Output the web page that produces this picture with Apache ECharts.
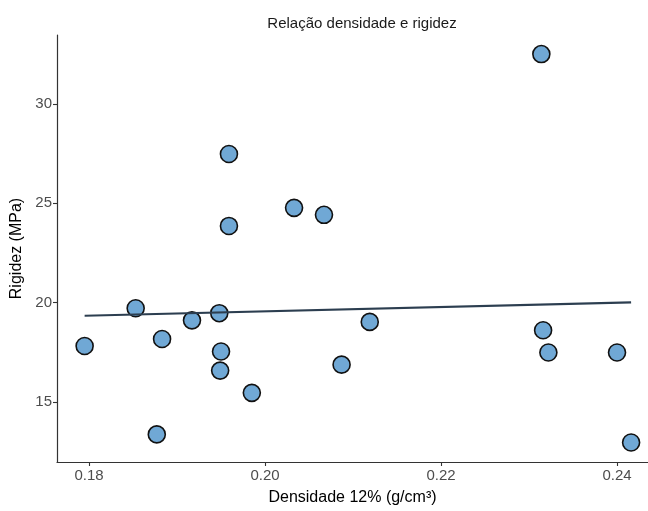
<!DOCTYPE html>
<html>
<head>
<meta charset="utf-8">
<script src="https://cdn.jsdelivr.net/npm/echarts@6/dist/echarts.min.js"></script>
<style>
html,body{margin:0;padding:0;background:#fff;}
#chart{width:648px;height:511px;}
</style>
</head>
<body>
<div id="chart"></div>
<script>
// Data
const densidade = [0.1959, 0.1959, 0.1853, 0.1917, 0.1948, 0.1795, 0.1883, 0.1950, 0.1949, 0.1985, 0.1877,
                   0.2033, 0.2067, 0.2119, 0.2087, 0.2314, 0.2316, 0.2322, 0.2400, 0.2416];
const rigidez   = [27.48, 23.86, 19.72, 19.11, 19.47, 17.82, 18.17, 17.54, 16.58, 15.46, 13.37,
                   24.77, 24.42, 19.03, 16.88, 32.51, 18.61, 17.49, 17.49, 12.96];
// Fitted line endpoints
const trendX = [0.1795, 0.2416];
const trendY = [19.34, 20.01];
const xTicks = [0.18, 0.20, 0.22, 0.24];
const yTicks = [15, 20, 25, 30];

const points = densidade.map((d, i) => [d, rigidez[i]]);
const trend = trendX.map((d, i) => [d, trendY[i]]);

const FONT = '"Liberation Sans", Arial, Helvetica, sans-serif';
const chart = echarts.init(document.getElementById('chart'), null, {renderer: 'canvas'});
chart.setOption({
  animation: false,
  backgroundColor: '#ffffff',
  title: {
    text: 'Relação densidade e rigidez',
    left: 357, top: 11, textAlign: 'center',
    textStyle: {fontFamily: FONT, fontSize: 15, fontWeight: 'normal', color: '#1a1a1a'}
  },
  grid: {left: 57, right: 0, top: 35, bottom: 42, containLabel: false},
  xAxis: {
    type: 'value', min: 0.17636, max: 0.24352,
    name: 'Densidade 12% (g/cm³)', nameLocation: 'middle', nameGap: 28,
    nameTextStyle: {fontFamily: FONT, fontSize: 16, color: '#000'},
    axisLine: {show: true, lineStyle: {color: '#333', width: 1.2}},
    axisTick: {show: true, length: 4, customValues: xTicks, lineStyle: {color: '#333', width: 1.1}},
    axisLabel: {customValues: xTicks, fontFamily: FONT, fontSize: 15, color: '#4d4d4d', margin: 6,
      formatter: v => v.toFixed(2)},
    splitLine: {show: false}
  },
  yAxis: {
    type: 'value', min: 11.98, max: 33.47,
    name: 'Rigidez (MPa)', nameLocation: 'middle', nameGap: 26, nameRotate: 90,
    nameTextStyle: {fontFamily: FONT, fontSize: 16, color: '#000'},
    axisLine: {show: true, lineStyle: {color: '#333', width: 1.2}},
    axisTick: {show: true, length: 4, customValues: yTicks, lineStyle: {color: '#333', width: 1.1}},
    axisLabel: {customValues: yTicks, fontFamily: FONT, fontSize: 15, color: '#4d4d4d', margin: 5},
    splitLine: {show: false}
  },
  series: [
    {
      type: 'scatter', data: points, symbol: 'circle', symbolSize: 17, z: 2,
      itemStyle: {color: '#70A8D5', borderColor: '#111', borderWidth: 1.6, opacity: 1}
    },
    {
      type: 'line', data: trend, symbol: 'none', z: 3,
      lineStyle: {color: '#2C3E50', width: 2.2}
    }
  ]
});
</script>
</body>
</html>
